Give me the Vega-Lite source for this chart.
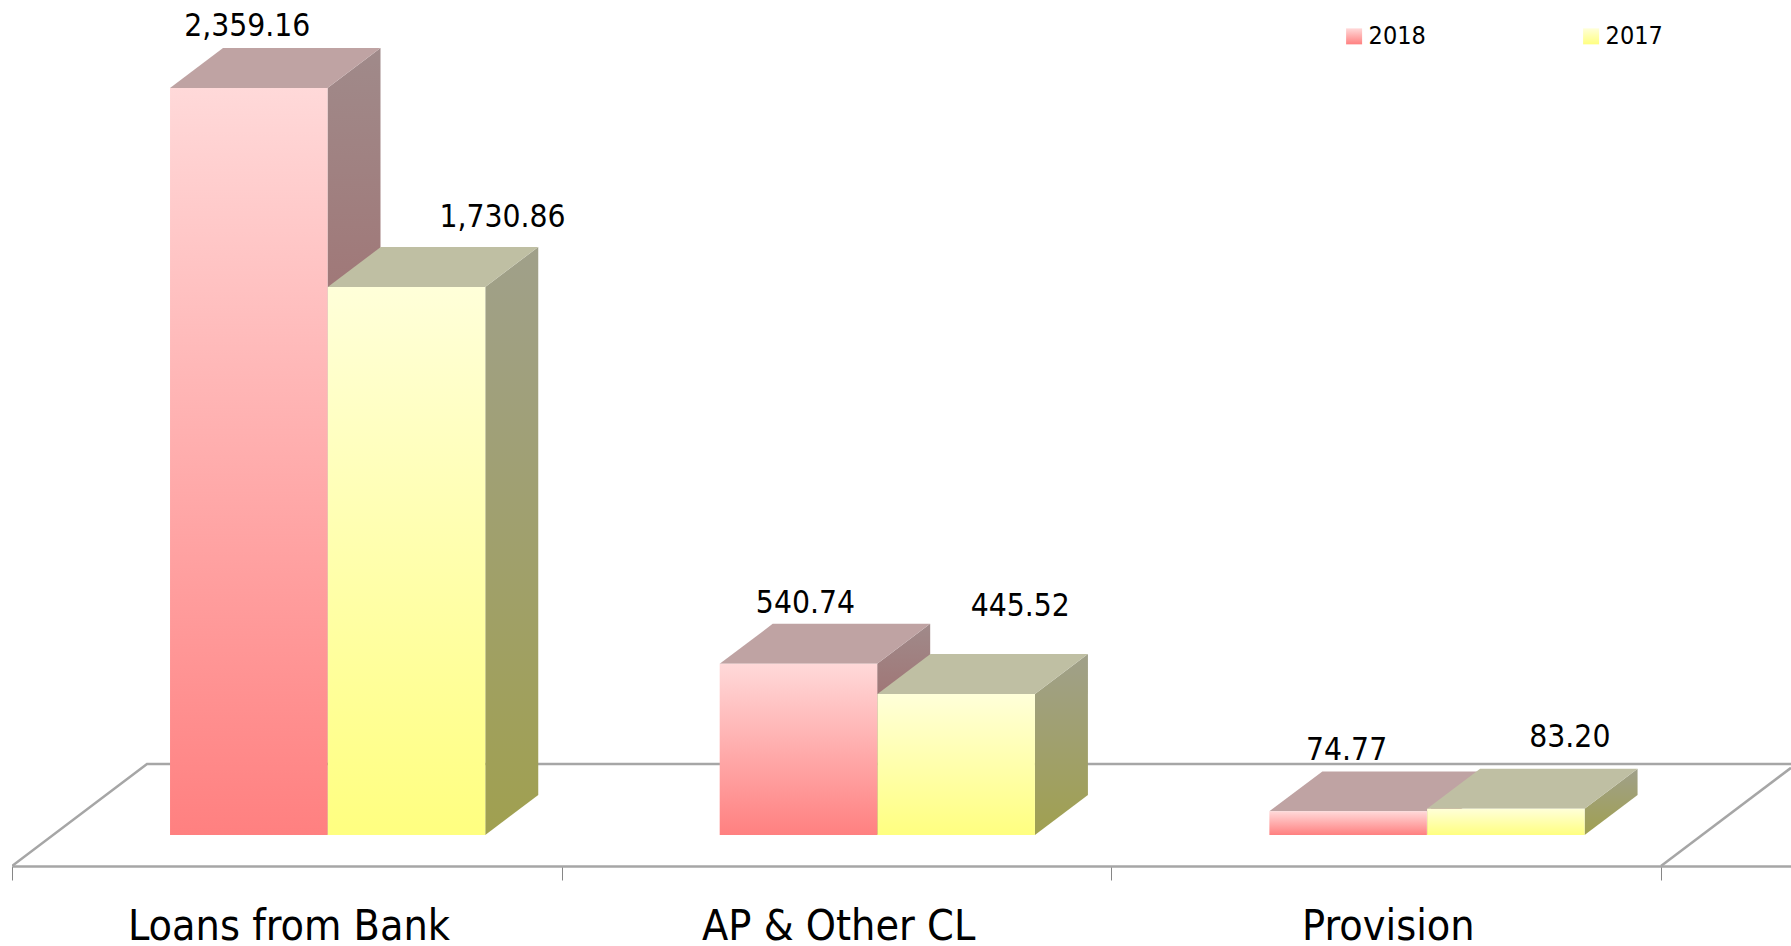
{
"$schema":"https://vega.github.io/schema/vega-lite/v6.json",
"width":1779,"height":866,
"autosize":{"type":"none"},
"padding":{"left":12,"top":0,"right":0,"bottom":80},
"background":"white",
"config":{"view":{"stroke":null},"text":{"font":"DejaVu Sans Condensed"}},
"datasets":{
"bars":[
{"category":"Loans from Bank","series":"2018","value":2359.16},
{"category":"Loans from Bank","series":"2017","value":1730.86},
{"category":"AP & Other CL","series":"2018","value":540.74},
{"category":"AP & Other CL","series":"2017","value":445.52},
{"category":"Provision","series":"2018","value":74.77},
{"category":"Provision","series":"2017","value":83.20}
],
"floor":[
{"edge":"left","fx":0,"fy":-98,"step":0},
{"edge":"left","fx":0.2456,"fy":224,"step":1},
{"edge":"left","fx":3.2365,"fy":224,"step":2},
{"edge":"right","fx":3,"fy":-98,"step":0},
{"edge":"right","fx":3.2365,"fy":212,"step":1}
]
},
"layer":[
{"data":{"name":"floor"},
 "mark":{"type":"line","color":"#A6A6A6","strokeWidth":2.5,"clip":true},
 "encoding":{
  "x":{"field":"fx","type":"quantitative","scale":{"domain":[0,3.2365],"nice":false,"zero":false},
   "axis":{"values":[0,1,2,3],"title":null,"grid":false,"domainColor":"#A6A6A6","domainWidth":2.5,"tickColor":"#868686","tickWidth":1,"tickSize":14,
    "labelExpr":"datum.value==0?'Loans from Bank':datum.value==1?'AP & Other CL':datum.value==2?'Provision':''",
    "labelOffset":276.5,"labelFont":"DejaVu Sans Condensed","labelFontSize":42.7,"labelColor":"#000000","labelPadding":25,"labelLimit":800,"labelFlush":false,"labelOverlap":false,"labelBound":false}},
  "y":{"field":"fy","type":"quantitative","stack":null,"scale":{"domain":[-98,2637],"nice":false,"zero":false},"axis":null},
  "detail":{"field":"edge"},
  "order":{"field":"step"}
 }},
{"data":{"name":"bars"},
 "transform":[
  {"calculate":"indexof(['Loans from Bank','AP & Other CL','Provision'],datum.category)+(datum.series==='2018'?0.2875:0.5745)","as":"front"},
  {"calculate":"datum.front+0.2865","as":"frontEnd"},
  {"calculate":"datum.frontEnd+0.0964","as":"backEnd"},
  {"fold":["frontEnd","backEnd"],"as":["corner","cx"]},
  {"calculate":"datum.value+(datum.corner==='backEnd'?126:0)","as":"sideTop"},
  {"calculate":"datum.corner==='backEnd'?126:0","as":"sideBottom"},
  {"filter":"datum.series==='2018'"}
 ],
 "mark":{"type":"area","color":{"gradient":"linear","x1":0,"y1":0,"x2":0,"y2":1,"stops":[{"offset":0,"color":"#A08A8A"},{"offset":1,"color":"#A05050"}]}},
 "encoding":{"x":{"field":"cx","type":"quantitative"},"y":{"field":"sideTop","type":"quantitative","stack":null},"y2":{"field":"sideBottom"},"detail":{"field":"category"}}},
{"data":{"name":"bars"},
 "transform":[
  {"calculate":"indexof(['Loans from Bank','AP & Other CL','Provision'],datum.category)+(datum.series==='2018'?0.2875:0.5745)","as":"front"},
  {"calculate":"datum.value","as":"valueBack"},
  {"fold":["value","valueBack"],"as":["level","ignored"]},
  {"calculate":"datum.value+(datum.level==='valueBack'?126:0)","as":"topY"},
  {"calculate":"datum.front+(datum.level==='valueBack'?0.0964:0)","as":"topX"},
  {"calculate":"datum.topX+0.2865","as":"topX2"},
  {"filter":"datum.series==='2018'"}
 ],
 "mark":{"type":"area","orient":"horizontal","color":"#BFA3A3"},
 "encoding":{"y":{"field":"topY","type":"quantitative"},"x":{"field":"topX","type":"quantitative","stack":null},"x2":{"field":"topX2"},"detail":{"field":"category"}}},
{"data":{"name":"bars"},
 "transform":[
  {"calculate":"indexof(['Loans from Bank','AP & Other CL','Provision'],datum.category)+(datum.series==='2018'?0.2875:0.5745)","as":"front"},
  {"calculate":"datum.front+0.2865","as":"frontEnd"},
  {"calculate":"datum.frontEnd+0.0964","as":"backEnd"},
  {"fold":["frontEnd","backEnd"],"as":["corner","cx"]},
  {"calculate":"datum.value+(datum.corner==='backEnd'?126:0)","as":"sideTop"},
  {"calculate":"datum.corner==='backEnd'?126:0","as":"sideBottom"},
  {"filter":"datum.series==='2017'"}
 ],
 "mark":{"type":"area","color":{"gradient":"linear","x1":0,"y1":0,"x2":0,"y2":1,"stops":[{"offset":0,"color":"#A0A08A"},{"offset":1,"color":"#A0A050"}]}},
 "encoding":{"x":{"field":"cx","type":"quantitative"},"y":{"field":"sideTop","type":"quantitative","stack":null},"y2":{"field":"sideBottom"},"detail":{"field":"category"}}},
{"data":{"name":"bars"},
 "transform":[
  {"calculate":"indexof(['Loans from Bank','AP & Other CL','Provision'],datum.category)+(datum.series==='2018'?0.2875:0.5745)","as":"front"},
  {"calculate":"datum.value","as":"valueBack"},
  {"fold":["value","valueBack"],"as":["level","ignored"]},
  {"calculate":"datum.value+(datum.level==='valueBack'?126:0)","as":"topY"},
  {"calculate":"datum.front+(datum.level==='valueBack'?0.0964:0)","as":"topX"},
  {"calculate":"datum.topX+0.2865","as":"topX2"},
  {"filter":"datum.series==='2017'"}
 ],
 "mark":{"type":"area","orient":"horizontal","color":"#BFBFA3"},
 "encoding":{"y":{"field":"topY","type":"quantitative"},"x":{"field":"topX","type":"quantitative","stack":null},"x2":{"field":"topX2"},"detail":{"field":"category"}}},
{"data":{"name":"bars"},
 "transform":[
  {"calculate":"indexof(['Loans from Bank','AP & Other CL','Provision'],datum.category)+(datum.series==='2018'?0.2875:0.5745)","as":"front"},
  {"calculate":"datum.front+0.2865","as":"frontEnd"}
 ],
 "mark":{"type":"rect"},
 "encoding":{
  "x":{"field":"front","type":"quantitative"},"x2":{"field":"frontEnd"},
  "y":{"field":"value","type":"quantitative"},"y2":{"datum":0},
  "fill":{"field":"series","type":"nominal",
   "scale":{"domain":["2018","2017"],"range":[
    {"expr":"{gradient:'linear',x1:0,y1:0,x2:0,y2:1,stops:[{offset:0,color:'#FFD9D9'},{offset:1,color:'#FF8080'}]}"},
    {"expr":"{gradient:'linear',x1:0,y1:0,x2:0,y2:1,stops:[{offset:0,color:'#FFFFD9'},{offset:1,color:'#FFFF80'}]}"}
   ]},
   "legend":{"title":null,"orient":"none","legendX":1329.6,"legendY":23.6,"direction":"horizontal","columns":2,"columnPadding":152,"symbolType":"square","symbolSize":256,"symbolStrokeWidth":0,"symbolOpacity":1,"labelFont":"DejaVu Sans Condensed","labelFontSize":25,"labelColor":"#000000","labelOffset":2,"padding":0}}
 }},
{"data":{"name":"bars"},
 "transform":[
  {"calculate":"indexof(['Loans from Bank','AP & Other CL','Provision'],datum.category)+0.2875+0.14325","as":"mid"},
  {"filter":"datum.series==='2018' && datum.category!=='AP & Other CL'"}
 ],
 "mark":{"type":"text","fontSize":31.5,"font":"DejaVu Sans Condensed","color":"#000000","dx":-1.5,"dy":-60.5,"baseline":"middle"},
 "encoding":{"x":{"field":"mid","type":"quantitative"},"y":{"field":"value","type":"quantitative"},"text":{"field":"value","type":"quantitative","format":",.2f"}}},
{"data":{"name":"bars"},
 "transform":[
  {"calculate":"indexof(['Loans from Bank','AP & Other CL','Provision'],datum.category)+0.2875+0.14325","as":"mid"},
  {"filter":"datum.series==='2018' && datum.category==='AP & Other CL'"}
 ],
 "mark":{"type":"text","fontSize":31.5,"font":"DejaVu Sans Condensed","color":"#000000","dx":7,"dy":-60,"baseline":"middle"},
 "encoding":{"x":{"field":"mid","type":"quantitative"},"y":{"field":"value","type":"quantitative"},"text":{"field":"value","type":"quantitative","format":",.2f"}}},
{"data":{"name":"bars"},
 "transform":[
  {"calculate":"indexof(['Loans from Bank','AP & Other CL','Provision'],datum.category)+0.5745+0.14325","as":"mid"},
  {"filter":"datum.series==='2017' && datum.category==='Loans from Bank'"}
 ],
 "mark":{"type":"text","fontSize":31.5,"font":"DejaVu Sans Condensed","color":"#000000","dx":96,"dy":-69,"baseline":"middle"},
 "encoding":{"x":{"field":"mid","type":"quantitative"},"y":{"field":"value","type":"quantitative"},"text":{"field":"value","type":"quantitative","format":",.2f"}}},
{"data":{"name":"bars"},
 "transform":[
  {"calculate":"indexof(['Loans from Bank','AP & Other CL','Provision'],datum.category)+0.5745+0.14325","as":"mid"},
  {"filter":"datum.series==='2017' && datum.category==='AP & Other CL'"}
 ],
 "mark":{"type":"text","fontSize":31.5,"font":"DejaVu Sans Condensed","color":"#000000","dx":64,"dy":-87,"baseline":"middle"},
 "encoding":{"x":{"field":"mid","type":"quantitative"},"y":{"field":"value","type":"quantitative"},"text":{"field":"value","type":"quantitative","format":",.2f"}}},
{"data":{"name":"bars"},
 "transform":[
  {"calculate":"indexof(['Loans from Bank','AP & Other CL','Provision'],datum.category)+0.5745+0.14325","as":"mid"},
  {"filter":"datum.series==='2017' && datum.category==='Provision'"}
 ],
 "mark":{"type":"text","fontSize":31.5,"font":"DejaVu Sans Condensed","color":"#000000","dx":64,"dy":-71,"baseline":"middle"},
 "encoding":{"x":{"field":"mid","type":"quantitative"},"y":{"field":"value","type":"quantitative"},"text":{"field":"value","type":"quantitative","format":",.2f"}}}
]
}
